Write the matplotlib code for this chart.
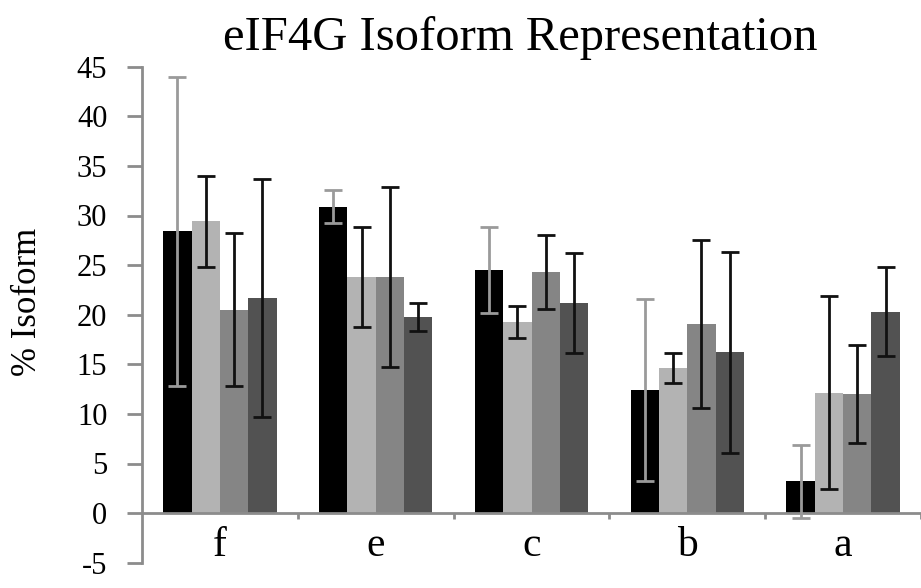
import matplotlib
matplotlib.use("Agg")
import matplotlib.pyplot as plt
import numpy as np

plt.rcParams['font.family'] = ['Liberation Serif', 'DejaVu Serif']

# Data
categories = ['f', 'e', 'c', 'b', 'a']
series1 = [28.4, 30.9, 24.5, 12.4, 3.2]
series2 = [29.4, 23.8, 19.3, 14.6, 12.15]
series3 = [20.5, 23.8, 24.3, 19.05, 12.0]
series4 = [21.7, 19.8, 21.2, 16.2, 20.3]
err1 = [15.6, 1.65, 4.35, 9.2, 3.7]
err2 = [4.6, 5.0, 1.6, 1.5, 9.7]
err3 = [7.7, 9.1, 3.7, 8.45, 4.9]
err4 = [12.0, 1.4, 5.05, 10.1, 4.5]
y_ticks = [-5, 0, 5, 10, 15, 20, 25, 30, 35, 40, 45]

bar_colors = ['#000000', '#b3b3b3', '#858585', '#525252']
err_colors = ['#9a9a9a', '#111111', '#111111', '#111111']
axis_gray = '#8c8c8c'

fig = plt.figure(figsize=(9.21, 5.88), dpi=100)
ax = fig.add_axes([142 / 921, 1 - 562.7 / 588, 1 - 142 / 921, (562.7 - 66.7) / 588])

x = np.arange(len(categories))
width = 0.182
all_vals = [series1, series2, series3, series4]
all_errs = [err1, err2, err3, err4]
for i, (vals, errs) in enumerate(zip(all_vals, all_errs)):
    pos = x + (i - 1.5) * width
    ax.bar(pos, vals, width, color=bar_colors[i], zorder=2)
    ax.errorbar(pos, vals, yerr=errs, fmt='none', ecolor=err_colors[i],
                elinewidth=2, capsize=6.8, capthick=2, zorder=3)

ax.set_xlim(-0.5, -0.5 + 779 / 156.8)
ax.set_ylim(-5, 45)
ax.set_yticks(y_ticks)
ax.set_yticklabels([str(t) for t in y_ticks], fontsize=22)

ax.spines['top'].set_visible(False)
ax.spines['right'].set_visible(False)
ax.spines['left'].set_color(axis_gray)
ax.spines['left'].set_linewidth(2)
ax.spines['bottom'].set_position(('data', 0))
ax.spines['bottom'].set_color(axis_gray)
ax.spines['bottom'].set_linewidth(2)

ax.tick_params(axis='y', direction='out', length=11, width=2, color=axis_gray, pad=14)
ax.set_xticks(x)
ax.set_xticklabels(categories, fontsize=30)
ax.tick_params(axis='x', which='major', length=0, pad=10)
ax.set_xticks(np.arange(len(categories)) + 0.5, minor=True)
ax.tick_params(axis='x', which='minor', direction='out', length=4, width=2, color=axis_gray)

fig.text(520 / 921, 1 - 50 / 588, 'eIF4G Isoform Representation', fontsize=35,
         ha='center', va='baseline')
fig.text(28 / 921, 1 - 302 / 588, '% Isoform', fontsize=25, rotation=90,
         ha='center', va='center')

fig.savefig('out.png', dpi=100)
